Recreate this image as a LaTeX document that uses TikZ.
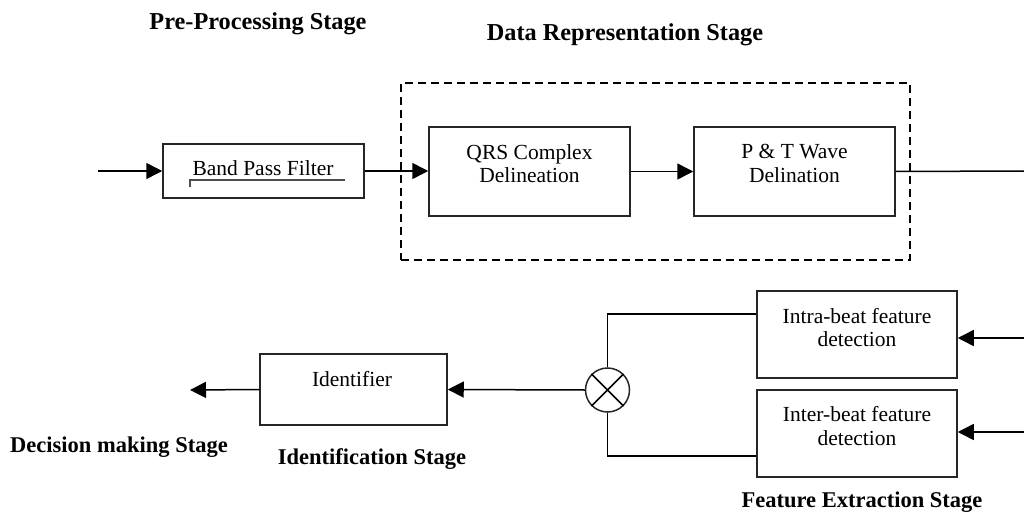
\documentclass[tikz,border=0pt]{standalone}
\usepackage{fontspec}
\setmainfont{Liberation Serif}
\usetikzlibrary{arrows.meta}
\begin{document}
\begin{tikzpicture}[x=1pt,y=-1pt,
  blk/.style={draw=black!85,line width=1.5pt,minimum width=#1,inner sep=0pt},
  txt/.style={font=\fontsize{21.5}{23.5}\selectfont,align=center,inner sep=0pt},
  head/.style={font=\fontsize{22.5}{25}\selectfont\bfseries,inner sep=0pt},
  tophead/.style={font=\fontsize{24.3}{27}\selectfont\bfseries,inner sep=0pt},
  conn/.style={line width=1.5pt,-{Triangle[length=16pt,width=16pt]}},
  plain/.style={line width=1.5pt}]
\useasboundingbox (0,0) rectangle (1024,513);
% headings
\node[tophead] (hpre) at (258,24) {Pre-Processing Stage};
\node[tophead] (hdata) at (625,35) {Data Representation Stage};
\node[head] (hdec) at (119,447) {Decision making Stage};
\node[head] (hid) at (372,459) {Identification Stage};
\node[head] (hfeat) at (862,502) {Feature Extraction Stage};
% dashed group
\node[draw,line width=1.5pt,dash pattern=on 8pt off 5pt,minimum width=509pt,minimum height=177pt,inner sep=0pt] (grp) at (655.5,171.5) {};
% boxes
\node[blk=201pt,minimum height=54pt] (bpf) at (263.5,171) {};
\node[blk=201pt,minimum height=89pt] (qrs) at (529.5,171.5) {};
\node[blk=201pt,minimum height=89pt] (pt) at (794.5,171.5) {};
\node[blk=200pt,minimum height=87pt] (intra) at (857,334.5) {};
\node[blk=200pt,minimum height=87pt] (inter) at (857,433.5) {};
\node[blk=187pt,minimum height=71pt] (ident) at (353.5,389.5) {};
\node[draw=black!85,line width=1.5pt,circle,minimum size=44pt,inner sep=0pt] (mix) at (607.5,390) {};
\draw[line width=1.5pt] (mix.north west) -- (mix.south east) (mix.north east) -- (mix.south west);
% texts
\node[txt] (tbpf) at (263,168) {Band Pass Filter};
\draw[line width=1.2pt,black!70] (190,187) -- (190,180) -- (345,180);
\node[txt] (tqrs) at (529.5,163.5) {QRS Complex\\Delineation};
\node[txt] (tpt) at (794.5,163.5) {P \& T Wave\\Delination};
\node[txt] (tintra) at (857,327.5) {Intra-beat feature\\detection};
\node[txt] (tinter) at (857,426) {Inter-beat feature\\detection};
\node[txt] (tident) at (352,379) {Identifier};
% coordinates
\coordinate (in) at (98,171);
\coordinate (out) at (190,390);
\coordinate (r1) at (1024,171);
\coordinate (r2) at (1024,338);
\coordinate (r3) at (1024,432);
% connectors
\draw[conn] (in) -- (bpf.west);
\draw[conn] (bpf.east) -- (bpf.east -| qrs.west);
\draw[conn] (qrs.east) -- (pt.west);
\draw[plain] (pt.east) -- (r1);
\draw[conn] (r2) -- (r2 -| intra.east);
\draw[conn] (r3) -- (r3 -| inter.east);
\draw[plain] (mix.north) -- (607.5,314) -- (intra.west |- 0,314);
\draw[plain] (mix.south) -- (607.5,456) -- (inter.west |- 0,456);
\draw[conn] (mix.west) -- (ident.east);
\draw[conn] (ident.west) -- (out);
\end{tikzpicture}
\end{document}
